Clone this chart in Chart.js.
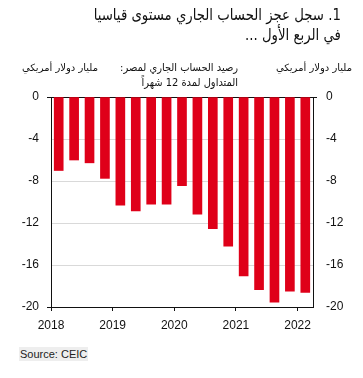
<!DOCTYPE html>
<html lang="ar">
<head>
<meta charset="utf-8">
<title>Egypt current account</title>
<script src="https://cdn.jsdelivr.net/npm/chart.js"></script>
<style>
  html, body { margin: 0; padding: 0; background: #fff; }
  #wrap { position: relative; width: 363px; height: 378px; overflow: hidden; }
  #wrap canvas { position: absolute; left: 0; top: 0; }
  .ar { position: absolute; direction: rtl; font-family: "DejaVu Sans", "Noto Sans", sans-serif; color: #111; white-space: nowrap; }
  #title { right: 22px; top: 5px; font-size: 16px; line-height: 20px; text-align: right;
           transform: scaleX(0.83); transform-origin: right top; }
  #unitL { left: 22px; top: 62px; font-size: 10px; }
  #unitR { right: 11px; top: 62px; font-size: 10px; }
  #legend { right: 125px; top: 60px; font-size: 11px; line-height: 15px; text-align: right;
            transform: scaleX(0.9); transform-origin: right top; }
  #source { position: absolute; left: 19px; top: 347px; font: 11px "Liberation Sans", Arial, sans-serif; color: #222; background: #eeeeee; padding: 1px 1px; }
</style>
</head>
<body>
<div id="wrap">
  <canvas id="myChart" width="363" height="378"></canvas>
  <div class="ar" id="title">1. سجل عجز الحساب الجاري مستوى قياسيا<br>في الربع الأول ...</div>
  <div class="ar" id="unitL">مليار دولار أمريكي</div>
  <div class="ar" id="unitR">مليار دولار أمريكي</div>
  <div class="ar" id="legend">رصيد الحساب الجاري لمصر:<br>المتداول لمدة 12 شهراً</div>
  <div id="source">Source: CEIC</div>
</div>
<script>
  // quarterly, 12-month rolling current account balance (USD bn)
  const quarters = ['2018Q1','2018Q2','2018Q3','2018Q4','2019Q1','2019Q2','2019Q3','2019Q4',
                    '2020Q1','2020Q2','2020Q3','2020Q4','2021Q1','2021Q2','2021Q3','2021Q4','2022Q1'];
  const balance = [-7.0, -6.0, -6.27, -7.75, -10.3, -10.85, -10.2, -10.2,
                   -8.45, -11.15, -12.55, -14.2, -17.05, -18.35, -19.55, -18.5, -18.62];
  const yearTicks = [2018, 2019, 2020, 2021, 2022];
  const yTicks = [0, -4, -8, -12, -16, -20];

  // place each quarter in the middle of its period on a year scale
  const points = quarters.map((q, i) => ({
    x: +q.slice(0, 4) + (+q.slice(5) - 1) * 0.25 + 0.125,
    y: balance[i]
  }));

  const tickFont = { family: 'Liberation Sans, Arial, sans-serif', size: 12 };
  const ink = '#111';

  const yGrid = {
    color: (c) => c.tick && c.tick.value === 0 ? ink : (c.tick && c.tick.value === -20 ? 'rgba(0,0,0,0)' : '#d9d9d9'),
    tickColor: (c) => c.tick && (c.tick.value === 0 || c.tick.value === -20) ? ink : 'rgba(0,0,0,0)',
    tickLength: 4,
    lineWidth: 1
  };

  const ctx = document.getElementById('myChart').getContext('2d');
  new Chart(ctx, {
    type: 'bar',
    data: {
      datasets: [{
        label: 'Current account',
        data: points,
        backgroundColor: '#df0019',
        barThickness: 9
      }]
    },
    options: {
      responsive: false,
      animation: false,
      layout: { padding: { top: 97, left: 0, right: 0, bottom: 41 } },
      plugins: { legend: { display: false }, tooltip: { enabled: false } },
      scales: {
        x: {
          type: 'linear',
          offset: false,
          min: 2018,
          max: 2022.25,
          afterBuildTicks: (s) => { s.ticks = yearTicks.map(v => ({ value: v })); },
          afterFit: (s) => { s.height = 30; },
          ticks: { font: tickFont, color: ink, padding: 7, callback: (v) => String(v), maxRotation: 0 },
          grid: { offset: false, drawOnChartArea: false, tickLength: 4, tickColor: ink },
          border: { color: ink, width: 1 }
        },
        y: {
          position: 'left',
          min: -20,
          max: 0,
          afterBuildTicks: (s) => { s.ticks = yTicks.map(v => ({ value: v })); },
          afterFit: (s) => { s.width = 51; },
          ticks: { font: tickFont, color: ink, padding: 8 },
          grid: yGrid,
          border: { color: ink, width: 1 }
        },
        y2: {
          position: 'right',
          min: -20,
          max: 0,
          afterBuildTicks: (s) => { s.ticks = yTicks.map(v => ({ value: v })); },
          afterFit: (s) => { s.width = 50; },
          ticks: { font: tickFont, color: ink, padding: 9 },
          grid: { drawOnChartArea: false, tickLength: 4,
                  tickColor: (c) => c.tick && c.tick.value === 0 ? ink : 'rgba(0,0,0,0)' },
          border: { color: ink, width: 1 }
        }
      }
    }
  });
</script>
</body>
</html>
